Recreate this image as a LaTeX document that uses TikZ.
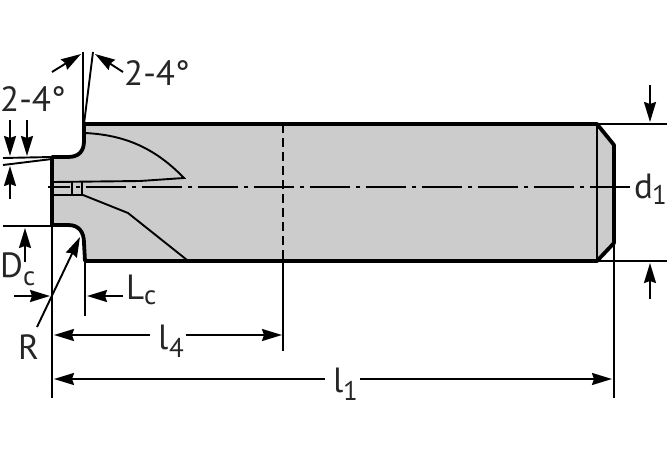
\documentclass[tikz,border=0pt]{standalone}
\usepackage{fontspec}
\setmainfont{PT Sans}
\usetikzlibrary{arrows.meta}
\tikzset{
  thick line/.style={line width=3.8pt,line join=round},
  thin line/.style={line width=1.9pt},
  dim/.style={line width=1.9pt,-{Stealth[length=20pt,width=12pt,inset=2pt]}},
  lbl/.style={font=\fontsize{35}{35}\selectfont,inner sep=0pt,text=black!85},
  sub/.style={font=\fontsize{27}{27}\selectfont,inner sep=0pt,text=black!85}
}
\begin{document}
\begin{tikzpicture}[x=1pt,y=-1pt]
\useasboundingbox (0,0) rectangle (670,460);
% body
\coordinate (tl) at (84,124);
\coordinate (tr) at (597,124);
\coordinate (er) at (614,145);
\coordinate (fr) at (614,243);
\coordinate (br) at (597,261);
\coordinate (bl) at (85,261);
\fill[black!20] (52,157) -- (68,157) .. controls (79,157) and (84,151) .. (84,141) -- (tl) -- (tr) -- (er) -- (fr) -- (br) -- (bl) -- (84,243) .. controls (84,232) and (79,225) .. (68,225) -- (52,225) -- cycle;
% inner lines
\draw[thin line] (85,133) .. controls (125,135) and (155,148) .. (184,178) -- (140,181) -- (53,182);
\draw[thin line] (53,195) -- (83,195) -- (128,213) -- (187,260);
\draw[thin line] (72,182) -- (72,195) (82,182) -- (82,195);
\draw[thin line] (tr) -- (br);
% centre line
\draw[line width=1.6pt,dash pattern=on 40pt off 6pt on 4pt off 6pt] (630,187) -- (48,187);
% dashed section
\draw[line width=2pt,dash pattern=on 9pt off 5pt] (283,124) -- (283,261);
% extension lines
\draw[thin line] (283,261) -- (283,351);
\draw[thin line] (52,225) -- (52,398);
\draw[thin line] (85,261) -- (85,316);
\draw[thin line] (614,243) -- (614,398);
\draw[thin line] (597,124) -- (667,124);
\draw[thin line] (597,261) -- (667,261);
\draw[thin line] (83,124) -- (83,52);
\draw[thin line] (84,124) -- (93,52);
\draw[thin line] (3,158) -- (52,157);
\draw[thin line] (3,165) -- (52,159);
\draw[thin line] (3,226) -- (52,226);
% outline
\draw[thick line] (52,157) -- (68,157) .. controls (79,157) and (84,151) .. (84,141) -- (tl) -- (tr) -- (er) -- (fr) -- (br) -- (bl) -- (84,243) .. controls (84,232) and (79,225) .. (68,225) -- (52,225) -- cycle;
% dimensions
\draw[dim] (52,72) -- (81,54);
\draw[dim] (123,72) -- (95,54);
\draw[dim] (10,120) -- (10,156);
\draw[dim] (27,120) -- (27,156);
\draw[dim] (10,199) -- (10,166);
\draw[dim] (25,262) -- (25,228);
\draw[dim] (14,296) -- (50,296);
\draw[dim] (123,296) -- (87,296);
\draw[dim] (37,327) -- (80,237);
\draw[dim] (150,335) -- (54,335);
\draw[dim] (186,335) -- (282,335);
\draw[dim] (325,379) -- (54,379);
\draw[dim] (360,379) -- (612,379);
\draw[dim] (650,85) -- (650,122);
\draw[dim] (650,299) -- (650,263);
% labels
\node[lbl,anchor=base west] (a1) at (124,85) {2-4°};
\node[lbl,anchor=base west] (a2) at (0,112) {2-4°};
\node[lbl,anchor=base west] (dc) at (0,277) {D};
\node[sub,anchor=base west] (dcs) at (23,285) {c};
\node[lbl,anchor=base west] (lc) at (126,299) {L};
\node[sub,anchor=base west] (lcs) at (144,304) {c};
\node[lbl,anchor=base west] (r) at (18,359) {R};
\node[lbl,anchor=base west] (l4) at (158,349) {l};
\node[sub,anchor=base west] (l4s) at (169,357) {4};
\node[lbl,anchor=base west] (l1) at (333,392) {l};
\node[sub,anchor=base west] (l1s) at (343,400) {1};
\node[lbl,anchor=base west] (d1) at (634,198) {d};
\node[sub,anchor=base west] (d1s) at (652,204) {1};
\end{tikzpicture}
\end{document}
